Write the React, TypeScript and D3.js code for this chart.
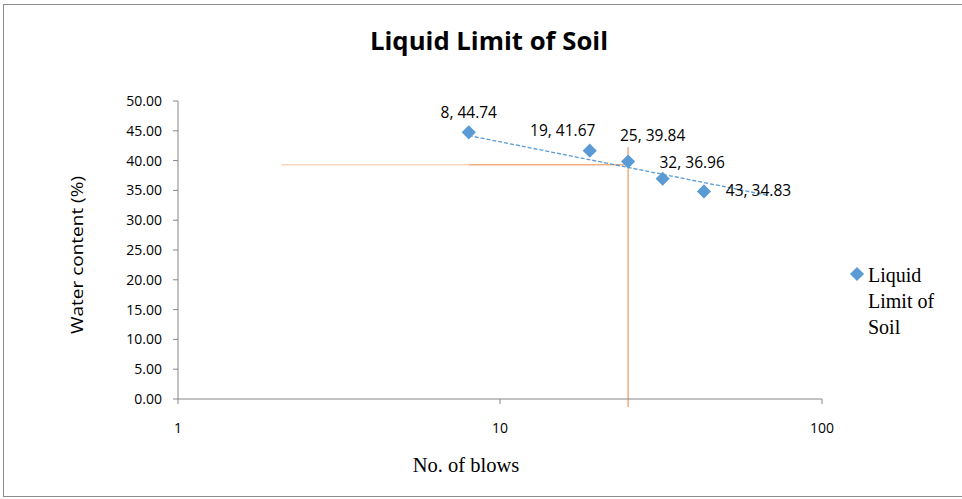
import React from "react";
import * as d3 from "d3";

const blows = [8, 19, 25, 32, 43];
const water = [44.74, 41.67, 39.84, 36.96, 34.83];
const yTicks = [0, 5, 10, 15, 20, 25, 30, 35, 40, 45, 50];
const xTicks = [1, 10, 100];
const labelOffsets = [
  [0, -14],
  [-27, -15],
  [24.5, -20.5],
  [29.5, -10.5],
  [54.5, 4.5],
];
const trendBlows = [8, 67.5];
const trendWater = [44.2, 34.2];
const liquidLimit = 39.3;
const refBlows = 25;
const guideStart = 2.1;

export default function App() {
  const W = 962;
  const H = 499;
  const x = d3.scaleLog().domain([1, 100]).range([178, 822]);
  const y = d3.scaleLinear().domain([0, 50]).range([399, 101]);

  const trendLine = d3
    .line<number>()
    .x((b) => x(b))
    .y((_, i) => y(trendWater[i]))(trendBlows);

  const diamond = d3.symbol().type(d3.symbolSquare).size(100)();
  const sans = "'Open Sans', 'DejaVu Sans', sans-serif";
  const serif = "'Liberation Serif', 'DejaVu Serif', serif";
  const axisColor = "#868686";

  return (
    <svg width={W} height={H} style={{ position: "absolute", left: 0, top: 0 }}>
      <rect x={0} y={0} width={W} height={H} fill="#fff" />
      <rect x={3.5} y={4.5} width={W + 10} height={492} fill="none" stroke="#8c8c8c" strokeWidth={1} />
      <text x={489} y={50} textAnchor="middle" fontFamily={sans} fontWeight={700} fontSize={25}
        textLength={238} lengthAdjust="spacingAndGlyphs" fill="#000">
        Liquid Limit of Soil
      </text>

      {/* guide lines */}
      <line x1={x(guideStart)} x2={x(refBlows)} y1={y(liquidLimit)} y2={y(liquidLimit)} stroke="#F9D5BC" strokeWidth={1.5} />
      <line x1={x(8)} x2={x(refBlows)} y1={y(liquidLimit)} y2={y(liquidLimit)} stroke="#EFA273" strokeWidth={1.2} />
      <line x1={x(refBlows)} x2={x(refBlows)} y1={y(42.3)} y2={y(-1.35)} stroke="#F3BA92" strokeWidth={1.8} />

      {/* axes */}
      <line x1={178} x2={178} y1={y(0)} y2={y(50)} stroke={axisColor} strokeWidth={1} />
      {yTicks.map((t) => (
        <g key={t}>
          <line x1={173} x2={178} y1={y(t)} y2={y(t)} stroke={axisColor} />
          <text x={162} y={y(t) + 5} textAnchor="end" fontFamily={sans} fontSize={14} fill="#000">
            {t.toFixed(2)}
          </text>
        </g>
      ))}
      <line x1={x(1)} x2={x(100)} y1={y(0)} y2={y(0)} stroke={axisColor} strokeWidth={1} />
      {xTicks.map((t) => (
        <g key={t}>
          <line x1={x(t)} x2={x(t)} y1={y(0)} y2={y(0) + 5} stroke={axisColor} />
          <text x={x(t)} y={433} textAnchor="middle" fontFamily={sans} fontSize={14} fill="#000">
            {t}
          </text>
        </g>
      ))}

      <text transform={`translate(83,255) rotate(-90)`} textAnchor="middle" fontFamily={sans} fontSize={17}
        textLength={158} lengthAdjust="spacingAndGlyphs" fill="#000">
        Water content (%)
      </text>
      <text x={466} y={472} textAnchor="middle" fontFamily={serif} fontSize={20.5} fill="#000">
        No. of blows
      </text>

      {/* trendline */}
      <path d={trendLine as string} fill="none" stroke="#5B9BD5" strokeWidth={1.3} strokeDasharray="4,2" />

      {/* points */}
      {blows.map((b, i) => (
        <path key={b} d={diamond as string} transform={`translate(${x(b)},${y(water[i])}) rotate(45)`} fill="#5B9BD5" />
      ))}
      {blows.map((b, i) => (
        <text key={"l" + b} x={x(b) + labelOffsets[i][0]} y={y(water[i]) + labelOffsets[i][1]}
          textAnchor="middle" fontFamily={sans} fontSize={15.5} fill="#000">
          {`${b}, ${water[i].toFixed(2)}`}
        </text>
      ))}

      {/* legend */}
      <path d={diamond as string} transform={`translate(857,274) rotate(45)`} fill="#5B9BD5" />
      <text fontFamily={serif} fontSize={20} fill="#000">
        <tspan x={868} y={282}>Liquid</tspan>
        <tspan x={868} y={308}>Limit of</tspan>
        <tspan x={868} y={334}>Soil</tspan>
      </text>
    </svg>
  );
}
